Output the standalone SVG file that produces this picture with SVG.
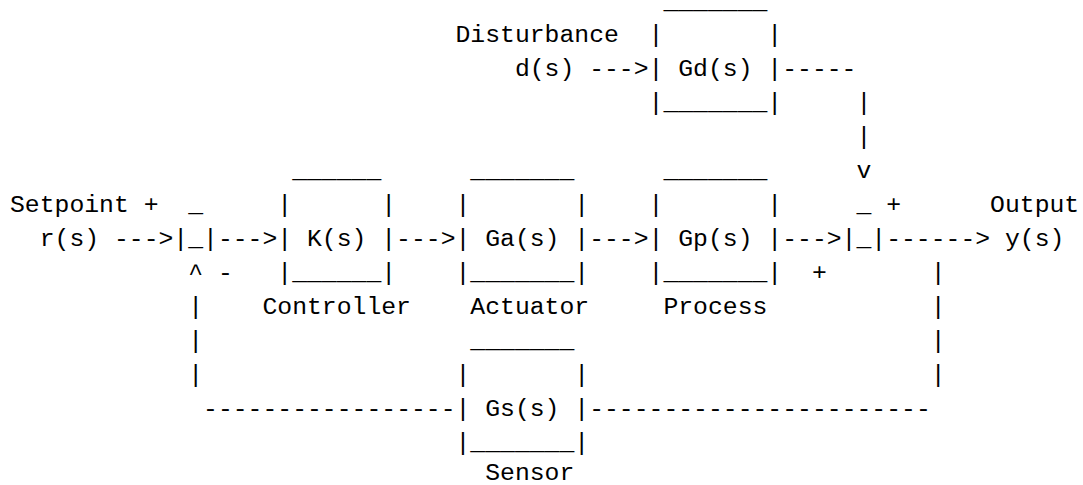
<svg xmlns="http://www.w3.org/2000/svg" width="1083" height="485" viewBox="0 0 1083 485">
<style>
text{font-family:"Liberation Mono","Courier New",monospace;font-size:24.75px;fill:#000;white-space:pre}
</style>
<rect width="1083" height="485" fill="#fff"/>
<g id="connectors">
<text x="589.15" y="76">---&gt;</text>
<text x="782.2" y="76">-----</text>
<text x="856.45" y="110">|</text>
<text x="856.45" y="144">|</text>
<text x="856.45" y="178">v</text>
<text x="113.95" y="246">---&gt;</text>
<text x="217.9" y="246">---&gt;</text>
<text x="396.1" y="246">---&gt;</text>
<text x="589.15" y="246">---&gt;</text>
<text x="782.2" y="246">---&gt;</text>
<text x="886.15" y="246">------&gt;</text>
<text x="188.2" y="280">^</text>
<text x="930.7" y="280">|</text>
<text x="188.2" y="314">|</text>
<text x="930.7" y="314">|</text>
<text x="188.2" y="348">|</text>
<text x="930.7" y="348">|</text>
<text x="188.2" y="382">|</text>
<text x="930.7" y="382">|</text>
<text x="203.05" y="416">-----------------</text>
<text x="589.15" y="416">-----------------------</text>
</g>
<g id="input">
<text x="10" y="212">Setpoint +</text>
<text x="39.7" y="246">r(s)</text>
</g>
<g id="disturbance">
<text x="455.5" y="42">Disturbance</text>
<text x="514.9" y="76">d(s)</text>
</g>
<g id="output">
<text x="990.1" y="212">Output</text>
<text x="1004.95" y="246">y(s)</text>
</g>
<g id="sum1">
<text x="188.2" y="212">_</text>
<text x="173.35" y="246">|_|</text>
<text x="217.9" y="280">-</text>
</g>
<g id="sum2">
<text x="856.45" y="212">_</text>
<text x="886.15" y="212">+</text>
<text x="841.6" y="246">|_|</text>
<text x="811.9" y="280">+</text>
</g>
<g id="gd">
<text x="663.4" y="9">_______</text>
<text x="648.55" y="42">|</text>
<text x="767.35" y="42">|</text>
<text x="648.55" y="76">|</text>
<text x="678.25" y="76">Gd(s)</text>
<text x="767.35" y="76">|</text>
<text x="648.55" y="110">|_______|</text>
</g>
<g id="k">
<text x="292.15" y="178">______</text>
<text x="277.3" y="212">|</text>
<text x="381.25" y="212">|</text>
<text x="277.3" y="246">|</text>
<text x="307" y="246">K(s)</text>
<text x="381.25" y="246">|</text>
<text x="277.3" y="280">|______|</text>
<text x="262.45" y="314">Controller</text>
</g>
<g id="ga">
<text x="470.35" y="178">_______</text>
<text x="455.5" y="212">|</text>
<text x="574.3" y="212">|</text>
<text x="455.5" y="246">|</text>
<text x="485.2" y="246">Ga(s)</text>
<text x="574.3" y="246">|</text>
<text x="455.5" y="280">|_______|</text>
<text x="470.35" y="314">Actuator</text>
</g>
<g id="gp">
<text x="663.4" y="178">_______</text>
<text x="648.55" y="212">|</text>
<text x="767.35" y="212">|</text>
<text x="648.55" y="246">|</text>
<text x="678.25" y="246">Gp(s)</text>
<text x="767.35" y="246">|</text>
<text x="648.55" y="280">|_______|</text>
<text x="663.4" y="314">Process</text>
</g>
<g id="gs">
<text x="470.35" y="348">_______</text>
<text x="455.5" y="382">|</text>
<text x="574.3" y="382">|</text>
<text x="455.5" y="416">|</text>
<text x="485.2" y="416">Gs(s)</text>
<text x="574.3" y="416">|</text>
<text x="455.5" y="450">|_______|</text>
<text x="485.2" y="480">Sensor</text>
</g>
</svg>
